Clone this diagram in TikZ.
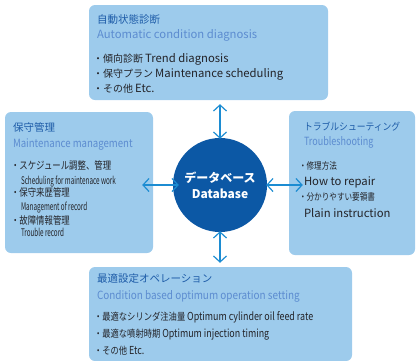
\documentclass[tikz,border=0pt]{standalone}
\usepackage{fontspec}
\setmainfont{Noto Sans CJK JP}
\usetikzlibrary{arrows.meta,calc}

% tamanho e largura da fonte
\newcommand{\letra}[2]{\fontspec{Noto Sans CJK JP}[FakeStretch=#2]\fontsize{#1}{#1}\selectfont}

\definecolor{azulclaro}{RGB}{157,203,236}
\definecolor{azulescuro}{RGB}{12,88,165}
\definecolor{azulseta}{RGB}{28,140,210}
\definecolor{azultitulo}{RGB}{30,92,168}
\definecolor{azulsub}{RGB}{92,140,208}
\definecolor{texto}{RGB}{35,35,40}

\begin{document}
\begin{tikzpicture}[
  x=1pt, y=-1pt,
  caixa/.style={rectangle, rounded corners=6pt, fill=azulclaro, inner sep=0pt},
  base/.style={circle, fill=azulescuro, minimum size=94pt, inner sep=0pt,
               text=white, font=\bfseries\fontsize{12}{16}\selectfont, align=center},
  titulo/.style={anchor=base west, inner sep=0pt, text=azultitulo},
  subtitulo/.style={anchor=base west, inner sep=0pt, text=azulsub},
  item/.style={anchor=base west, inner sep=0pt, text=texto},
  seta/.style={{Straight Barb[length=6pt,width=13pt]}-{Straight Barb[length=6pt,width=13pt]},
               line width=1.2pt, draw=azulseta}
]
\useasboundingbox (0,0) rectangle (417,360);

% ---------------- Caixas ----------------
\node[caixa, minimum width=239pt, minimum height=95pt]  (cima)     at (208.5,52.5) {};
\node[caixa, minimum width=148pt, minimum height=141pt] (esquerda) at (79,182.5) {};
\node[caixa, minimum width=126pt, minimum height=144pt] (direita)  at (352,183) {};
\node[caixa, minimum width=263pt, minimum height=94pt]  (baixo)    at (220.5,314) {};

% ---------------- Banco de dados ----------------
\node[base] (db) at (220,185) {データベース\\Database};

% ---------------- Textos: diagnóstico ----------------
\node[titulo]    (t1)  at ($(cima.north west)+(8,19)$) {\letra{10.5}{1}自動状態診断};
\node[subtitulo] (s1)  at ($(cima.north west)+(8,34)$) {\letra{11.3}{1}Automatic condition diagnosis};
\node[item]      (i11) at ($(cima.north west)+(4,58)$) {\letra{10}{1}・傾向診断 \letra{11.3}{1}Trend diagnosis};
\node[item]      (i12) at ($(cima.north west)+(4,73)$) {\letra{10}{1}・保守プラン \letra{11.3}{1}Maintenance scheduling};
\node[item]      (i13) at ($(cima.north west)+(4,88)$) {\letra{10}{1}・その他 \letra{11.3}{1}Etc.};

% ---------------- Textos: manutenção ----------------
\node[titulo]    (t2)  at ($(esquerda.north west)+(8,20)$) {\letra{10.5}{1}保守管理};
\node[subtitulo] (s2)  at ($(esquerda.north west)+(8,36)$) {\letra{11.3}{0.85}Maintenance management};
\node[item]      (i21) at ($(esquerda.north west)+(6,58)$) {\letra{10.5}{0.8}・スケジュール調整、管理};
\node[item]      (i22) at ($(esquerda.north west)+(16,73)$) {\letra{10.5}{0.6}Scheduling for maintenace work};
\node[item]      (i23) at ($(esquerda.north west)+(6,85)$) {\letra{10.5}{0.8}・保守来歴管理};
\node[item]      (i24) at ($(esquerda.north west)+(16,99)$) {\letra{10.5}{0.6}Management of record};
\node[item]      (i25) at ($(esquerda.north west)+(6,113)$) {\letra{10.5}{0.8}・故障情報管理};
\node[item]      (i26) at ($(esquerda.north west)+(16,125)$) {\letra{10.5}{0.6}Trouble record};

% ---------------- Textos: falhas ----------------
\node[titulo]    (t3)  at ($(direita.north west)+(15,20)$) {\letra{10}{0.88}トラブルシューティング};
\node[subtitulo] (s3)  at ($(direita.north west)+(15,35)$) {\letra{11.3}{0.8}Troubleshooting};
\node[item]      (i31) at ($(direita.north west)+(10,59)$) {\letra{9.5}{0.8}・修理方法};
\node[item]      (i32) at ($(direita.north west)+(15,75)$) {\letra{11.3}{1}How to repair};
\node[item]      (i33) at ($(direita.north west)+(10,90)$) {\letra{9.5}{0.8}・分かりやすい要領書};
\node[item]      (i34) at ($(direita.north west)+(15,107)$) {\letra{11.3}{1}Plain instruction};

% ---------------- Textos: operação ----------------
\node[titulo]    (t4)  at ($(baixo.north west)+(8,16)$) {\letra{10.5}{1}最適設定オペレーション};
\node[subtitulo] (s4)  at ($(baixo.north west)+(8,33)$) {\letra{11.3}{0.88}Condition based optimum operation setting};
\node[item]      (i41) at ($(baixo.north west)+(5,54)$) {\letra{10}{0.83}・最適なシリンダ注油量 \letra{11}{0.81}Optimum cylinder oil feed rate};
\node[item]      (i42) at ($(baixo.north west)+(5,71)$) {\letra{10}{0.83}・最適な噴射時期 \letra{11}{0.81}Optimum injection timing};
\node[item]      (i43) at ($(baixo.north west)+(5,88)$) {\letra{10}{0.83}・その他 \letra{11}{0.81}Etc.};

% ---------------- Setas ----------------
\draw[seta] ([yshift=-4pt]db.north |- cima.south) -- ([yshift=-1pt]db.north);
\draw[seta] ([yshift=1pt]db.south) -- ([yshift=4pt]db.south |- baixo.north);
\draw[seta] ([xshift=-11pt]esquerda.east |- db.west) -- ([xshift=6pt]db.west);
\draw[seta] ([xshift=-1pt]db.east) -- ([xshift=14pt]direita.west |- db.east);

\end{tikzpicture}
\end{document}
